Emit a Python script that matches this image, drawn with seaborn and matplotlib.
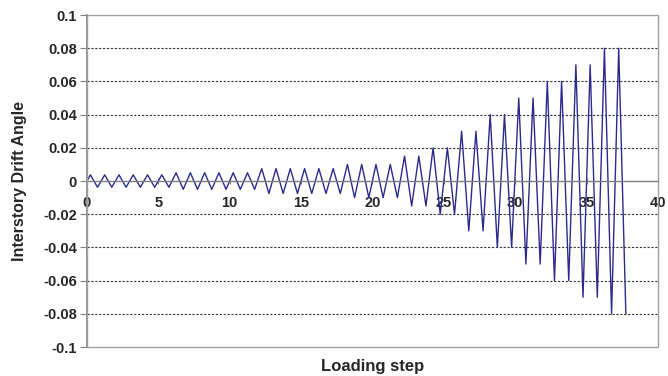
import matplotlib
matplotlib.use("Agg")
import matplotlib.pyplot as plt
import seaborn as sns
import pandas as pd
from matplotlib.patches import Rectangle

# Loading protocol: amplitude levels and number of cycles at each level
amplitude_levels = [0.00375, 0.005, 0.0075, 0.01, 0.015, 0.02, 0.03, 0.04, 0.05, 0.06, 0.07, 0.08]
cycles_per_level = [6, 6, 6, 4, 2, 2, 2, 2, 2, 2, 2, 2]
x_ticks = [0, 5, 10, 15, 20, 25, 30, 35, 40]
y_ticks = [-0.1, -0.08, -0.06, -0.04, -0.02, 0, 0.02, 0.04, 0.06, 0.08, 0.1]
y_tick_labels = ["-0.1", "-0.08", "-0.06", "-0.04", "-0.02", "0", "0.02", "0.04", "0.06", "0.08", "0.1"]

# Build the peak sequence: each loading step is one full cycle (+peak, -peak)
steps = [0.0]
angles = [0.0]
step = 0
for amp, n in zip(amplitude_levels, cycles_per_level):
    for _ in range(n):
        steps += [step + 0.25, step + 0.75]
        angles += [amp, -amp]
        step += 1
df = pd.DataFrame({"Loading step": steps, "Interstory Drift Angle": angles})

sns.set_theme(style="white")
plt.rcParams["font.family"] = ["Liberation Sans", "DejaVu Sans"]

fig = plt.figure(figsize=(6.68, 3.76), dpi=100)
ax = fig.add_axes([0.130, 0.077, 0.855, 0.883])

sns.lineplot(data=df, x="Loading step", y="Interstory Drift Angle", sort=False,
             color="#2b2b8c", linewidth=1.0, ax=ax)

ax.set_xlim(0, 40)
ax.set_ylim(-0.1, 0.1)

# dashed horizontal gridlines (excluding zero)
for yv in y_ticks:
    if yv not in (0, -0.1, 0.1):
        ax.axhline(yv, color="#333333", linestyle=(0, (2.0, 1.5)), linewidth=0.8, zorder=0)

# spines: left at x=0, bottom crossing at y=0, plus gray frame
for s in ["top", "right"]:
    ax.spines[s].set_visible(False)
ax.spines["bottom"].set_position(("data", 0))
ax.spines["bottom"].set_color("#7f7f7f")
ax.spines["left"].set_color("#7f7f7f")
ax.spines["bottom"].set_linewidth(1.0)
ax.spines["left"].set_linewidth(1.2)
ax.add_patch(Rectangle((0, 0), 1, 1, transform=ax.transAxes, fill=False,
                       edgecolor="#a0a0a0", linewidth=1.0, clip_on=False, zorder=5))

ax.set_xticks(x_ticks)
ax.set_xticklabels([str(v) for v in x_ticks], fontsize=10.5, fontweight="bold")
ax.set_yticks(y_ticks)
ax.set_yticklabels(y_tick_labels, fontsize=10.5, fontweight="bold")
ax.tick_params(axis="x", direction="inout", length=4, width=0.8, color="#7f7f7f", pad=9, bottom=True)
ax.tick_params(axis="y", direction="out", length=5, width=0.8, color="#7f7f7f", pad=2, left=True)

ax.set_xlabel("Loading step", fontsize=12, fontweight="bold")
ax.set_ylabel("Interstory Drift Angle", fontsize=11.5, fontweight="bold")
ax.xaxis.set_label_coords(0.5, -0.036)
ax.yaxis.set_label_coords(-0.105, 0.5)

fig.savefig("out.png", dpi=100)
